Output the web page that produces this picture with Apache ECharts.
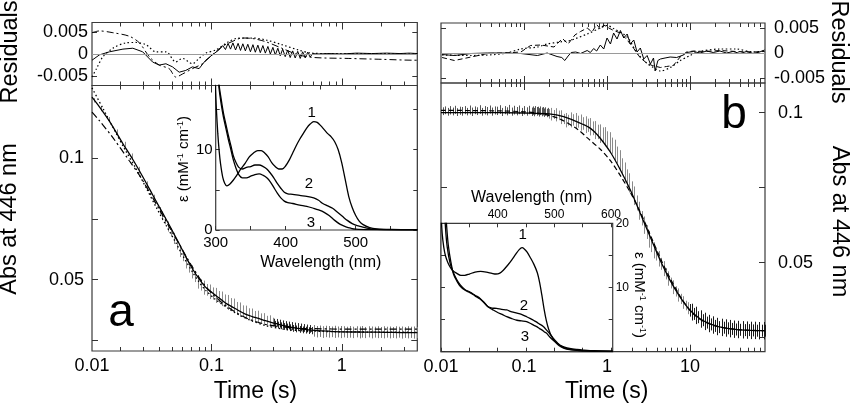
<!DOCTYPE html>
<html><head><meta charset="utf-8">
<script src="https://cdn.jsdelivr.net/npm/echarts@6/dist/echarts.min.js"></script>
<style>html,body{margin:0;padding:0;background:#fff}#c{width:850px;height:407px}</style>
</head><body><div id="c"></div><script>
// ================= DATA =================
// ---- tick / label values ----
const aTimeLabelVals = [0.0121, 0.1, 1];
const aTimeLabels = ['0.01', '0.1', '1'];
const aMajorTicks = [0.1, 1];
const aMinorTicks = [0.02,0.03,0.04,0.05,0.06,0.07,0.08,0.09,0.2,0.3,0.4,0.5,0.6,0.7,0.8,0.9,2,3];
const bTimeLabelVals = [0.01, 0.1, 1, 10];
const bTimeLabels = ['0.01', '0.1', '1', '10'];
const bMajorTicks = [0.1, 1, 10];
const bMinorTicks = [0.02,0.03,0.04,0.05,0.06,0.07,0.08,0.09,0.2,0.3,0.4,0.5,0.6,0.7,0.8,0.9,2,3,4,5,6,7,8,9,20,30,40,50,60,70];
const absTicks = [0.025, 0.05, 0.075, 0.1];
const absLabels = [0.05, 0.1];
const resTicks = [-0.005, 0, 0.005];
const wlTicks = [300,350,400,450,500,550,600];
const wlLabelsA = [300, 400, 500];
const wlLabelsB = [400, 500, 600];
const epsTicksA = [0, 5, 10, 15];
const epsLabelsA = [0, 10];
const epsTicksB = [0, 5, 10, 15, 20];
const epsLabelsB = [10, 20];

// ---- panel a : measured absorbance (time, low, high) ----
const aBarsMain = [
 [0.0125,0.1230,0.1248],[0.0142,0.1194,0.1212],[0.0163,0.1150,0.1170],[0.0188,0.1097,0.1119],[0.0215,0.1044,0.1068],
 [0.0245,0.0994,0.1020],[0.028,0.0937,0.0965],[0.032,0.0877,0.0905],[0.036,0.0818,0.0850],
 [0.040,0.0771,0.0799],[0.042,0.0745,0.0781],[0.0443,0.0728,0.0758],[0.0467,0.0698,0.0740],[0.0492,0.0678,0.0712],
 [0.0519,0.0647,0.0693],[0.0547,0.0624,0.0662],[0.0577,0.0593,0.0643],[0.0608,0.0576,0.0616],[0.0641,0.0546,0.0598],
 [0.0676,0.0529,0.0573],[0.0712,0.0505,0.0559],[0.0751,0.0490,0.0532],[0.0792,0.0463,0.0519],[0.0835,0.0455,0.0501],
 [0.088,0.0438,0.0496],[0.0928,0.0434,0.0482],[0.0978,0.0420,0.0480],[0.103,0.0418,0.0468],[0.109,0.0404,0.0466],
 [0.115,0.0405,0.0453],[0.121,0.0391,0.0451],[0.127,0.0387,0.0439],[0.134,0.0375,0.0437],[0.141,0.0374,0.0424],
 [0.149,0.0362,0.0422],[0.157,0.0360,0.0408],[0.166,0.0348,0.0406],[0.175,0.0348,0.0394],[0.184,0.0337,0.0393],
 [0.194,0.0338,0.0382],[0.205,0.0327,0.0381],[0.216,0.0329,0.0371],[0.228,0.0320,0.0372],[0.240,0.0321,0.0361],
 [0.253,0.0312,0.0362],[0.267,0.0313,0.0351],[0.281,0.0305,0.0353],[0.297,0.0307,0.0343]
];
const aBarsDense = [
 [0.300,0.0309,0.0339],[0.308,0.0302,0.0330],[0.317,0.0306,0.0338],[0.325,0.0299,0.0327],[0.334,0.0303,0.0335],
 [0.343,0.0296,0.0324],[0.353,0.0300,0.0332],[0.362,0.0293,0.0321],[0.372,0.0297,0.0329],[0.382,0.0291,0.0319],
 [0.393,0.0295,0.0327],[0.403,0.0288,0.0316],[0.414,0.0293,0.0325],[0.426,0.0285,0.0313],[0.437,0.0291,0.0323],
 [0.449,0.0283,0.0311],[0.461,0.0289,0.0321],[0.474,0.0281,0.0309],[0.487,0.0287,0.0319],[0.500,0.0279,0.0307],
 [0.514,0.0285,0.0317],[0.528,0.0278,0.0306],[0.542,0.0283,0.0315],[0.557,0.0276,0.0304],[0.572,0.0281,0.0313],
 [0.588,0.0275,0.0305]
];
const aBarsLate = [
 [0.61,0.0265,0.0313],[0.645,0.0262,0.0309],[0.68,0.0264,0.0311],[0.717,0.0260,0.0308],[0.757,0.0263,0.0310],
 [0.8,0.0261,0.0309],[0.843,0.0263,0.0307],[0.89,0.0260,0.0310],[0.94,0.0262,0.0307],[0.99,0.0259,0.0309],
 [1.045,0.0262,0.0308],[1.10,0.0260,0.0306],[1.16,0.0261,0.0309],[1.23,0.0259,0.0306],[1.30,0.0262,0.0308],
 [1.37,0.0258,0.0307],[1.44,0.0261,0.0309],[1.52,0.0259,0.0305],[1.61,0.0262,0.0308],[1.70,0.0258,0.0307],
 [1.79,0.0261,0.0306],[1.89,0.0259,0.0308],[1.99,0.0260,0.0305],[2.10,0.0258,0.0308],[2.22,0.0261,0.0306],
 [2.34,0.0258,0.0307],[2.47,0.0260,0.0305],[2.61,0.0258,0.0308],[2.75,0.0261,0.0306],[2.90,0.0257,0.0307],
 [3.06,0.0260,0.0305],[3.23,0.0258,0.0308],[3.41,0.0260,0.0306],[3.60,0.0257,0.0307],[3.78,0.0259,0.0305]
];
// ---- panel a : fits ----
const aFitSolid = [[0.0121,0.1252],[0.0138,0.1212],[0.0165,0.1152],[0.0209,0.1060],[0.0249,0.0995],[0.0296,0.0925],
 [0.0353,0.0850],[0.0397,0.0800],[0.0447,0.0750],[0.0502,0.0700],[0.0565,0.0648],[0.0635,0.0594],[0.0714,0.0545],
 [0.0803,0.0503],[0.0903,0.0468],[0.1014,0.0446],[0.114,0.0425],[0.128,0.0404],[0.144,0.0388],[0.162,0.0372],
 [0.182,0.0358],[0.205,0.0348],[0.23,0.0340],[0.259,0.0331],[0.291,0.0323],[0.327,0.0316],[0.367,0.0309],
 [0.413,0.0303],[0.465,0.0299],[0.522,0.0295],[0.588,0.0292],[0.7,0.0289],[1.0,0.0285],[1.5,0.0284],[2.2,0.0283],
 [3.0,0.0282],[3.8,0.0282]];
const aFitDashDot = [[0.0121,0.1190],[0.0138,0.1155],[0.0175,0.1085],[0.0234,0.0990],[0.028,0.0930],[0.0333,0.0862],
 [0.0397,0.0790],[0.0473,0.0718],[0.0533,0.0670],[0.06,0.0622],[0.0714,0.0552],[0.085,0.0490],[0.1014,0.0442],
 [0.121,0.0404],[0.144,0.0375],[0.172,0.0350],[0.205,0.0332],[0.259,0.0316],[0.347,0.0305],[0.465,0.0300],
 [0.62,0.0298],[1.12,0.0296],[2.02,0.0296],[3.8,0.0296]];
const aFitDot = [[0.0121,0.1290],[0.0147,0.1205],[0.0175,0.1128],[0.022,0.1030],[0.0263,0.0958],[0.0314,0.0880],
 [0.0375,0.0800],[0.0447,0.0725],[0.0533,0.0652],[0.06,0.0600],[0.0714,0.0532],[0.0803,0.0490],[0.0903,0.0456],
 [0.1076,0.0418],[0.136,0.0380],[0.162,0.0355],[0.205,0.0330],[0.259,0.0311],[0.347,0.0297],[0.465,0.0290],
 [0.588,0.0288],[1.0,0.0285],[3.8,0.0283]];
// ---- panel a : residuals ----
const aResSolid = [[0.0121,-0.0014],[0.0138,-0.0002],[0.0165,0.0005],[0.0209,0.0011],[0.0249,0.0013],[0.0296,0.0005],
 [0.0353,-0.0018],[0.0397,-0.0025],[0.0447,-0.0022],[0.0502,-0.0029],[0.0565,-0.0041],[0.0635,-0.0037],[0.0714,-0.0029],
 [0.0803,-0.0033],[0.0903,-0.0014],[0.1014,-0.0002],[0.114,0.0009],[0.122,0.0019],[0.128,0.0010],[0.134,0.0024],
 [0.14,0.0011],[0.146,0.0025],[0.153,0.0009],[0.16,0.0024],[0.167,0.0008],[0.174,0.0023],[0.182,0.0007],[0.19,0.0022],
 [0.199,0.0005],[0.208,0.0021],[0.217,0.0004],[0.227,0.0020],[0.237,0.0003],[0.248,0.0019],[0.259,0.0002],
 [0.271,0.0017],[0.283,0.0000],[0.296,0.0015],[0.309,-0.0002],[0.323,0.0013],[0.337,-0.0004],[0.352,0.0011],
 [0.368,-0.0006],[0.385,0.0009],[0.402,-0.0008],[0.42,0.0007],[0.439,-0.0009],[0.459,0.0006],[0.48,-0.0010],
 [0.501,0.0005],[0.524,-0.0009],[0.547,0.0004],[0.572,-0.0007],[0.598,0.0001],[0.65,0.0000],[0.8,0.0001],
 [1.0,0.0000],[1.3,0.0002],[1.7,0.0001],[2.2,0.0002],[2.8,0.0001],[3.3,0.0002],[3.8,0.0001]];
const aResDot = [[0.0121,-0.0052],[0.0131,-0.0033],[0.0147,-0.0006],[0.0175,0.0013],[0.022,0.0025],[0.0263,0.0026],
 [0.0314,0.0021],[0.0375,0.0005],[0.0447,0.0005],[0.0533,-0.0018],[0.06,-0.0010],[0.0714,-0.0022],[0.0803,-0.0010],
 [0.0903,0.0002],[0.1076,0.0009],[0.136,0.0028],[0.162,0.0036],[0.205,0.0036],[0.259,0.0032],[0.347,0.0021],
 [0.465,0.0009],[0.588,0.0002],[0.8,0.0001],[1.5,0.0001],[3.8,0.0000]];
const aResDashDot = [[0.0121,0.0048],[0.0138,0.0052],[0.0175,0.0048],[0.0234,0.0040],[0.028,0.0025],[0.0333,-0.0006],
 [0.0397,-0.0025],[0.0473,-0.0033],[0.0533,-0.0052],[0.06,-0.0045],[0.0714,-0.0033],[0.085,-0.0022],[0.1014,-0.0002],
 [0.121,0.0017],[0.144,0.0028],[0.172,0.0036],[0.205,0.0035],[0.259,0.0028],[0.347,0.0013],[0.465,-0.0002],
 [0.62,-0.0008],[1.12,-0.0010],[2.02,-0.0012],[3.6,-0.0014],[3.8,-0.0014]];
// ---- panel a inset : spectra (nm, mM-1 cm-1) ----
const aSpec1 = [[299,18.5],[301,15],[303,12],[305,9.8],[307,8.2],[310,6.6],[313,5.8],[316,5.5],[320,5.7],[325,6.2],
 [330,6.8],[336,7.6],[342,8.3],[348,9.1],[354,9.6],[360,9.9],[365,9.9],[370,9.6],[375,9.1],[380,8.4],[385,7.9],
 [390,7.6],[395,7.6],[400,8.0],[405,8.7],[410,9.6],[415,10.5],[420,11.3],[425,12.0],[430,12.7],[435,13.2],[440,13.5],
 [445,13.4],[450,13.0],[455,12.5],[460,12.0],[465,11.6],[470,11.0],[475,10.0],[480,8.4],[485,6.3],[490,4.2],[495,2.8],
 [500,1.8],[505,1.1],[510,0.7],[520,0.3],[530,0.15],[550,0.08],[588,0.05]];
const aSpec2 = [[300,26],[303,21],[305,18],[308,16.2],[311,14.6],[315,13],[318,11.8],[322,10.4],[325,9.3],[329,8.4],
 [333,7.8],[338,7.6],[344,7.8],[350,7.9],[356,8.1],[362,8.1],[368,7.9],[373,7.6],[378,7.1],[383,6.5],[388,5.8],
 [393,5.2],[398,4.7],[403,4.5],[410,4.45],[420,4.3],[430,4.2],[440,4.0],[447,3.7],[453,3.3],[460,3.0],[467,2.7],
 [474,2.2],[481,1.7],[488,1.2],[495,0.8],[502,0.55],[509,0.4],[516,0.22],[523,0.12],[540,0.05],[588,0.03]];
const aSpec3 = [[300,25],[303,20],[305,17.5],[308,15.6],[311,14.1],[315,12.5],[318,11.3],[322,9.9],[325,8.8],[329,7.7],
 [333,6.9],[338,6.5],[344,6.5],[350,6.7],[356,6.9],[362,7.0],[368,6.8],[373,6.5],[378,6.0],[383,5.3],[388,4.6],
 [393,4.0],[398,3.6],[403,3.4],[410,3.3],[420,3.1],[430,2.95],[440,2.7],[447,2.5],[455,2.2],[462,1.8],[470,1.2],
 [478,0.7],[486,0.4],[493,0.22],[500,0.1],[520,0.04],[588,0.02]];

// ---- panel b : measured absorbance (time, low, high) ----
const bBarsEarly = [
 [0.0105,0.0992,0.1018],[0.0112,0.0995,0.1021],[0.012,0.0990,0.1016],[0.0129,0.0994,0.1022],[0.0138,0.0991,0.1017],
 [0.0148,0.0996,0.1023],[0.0158,0.0989,0.1015],[0.0169,0.0993,0.1020],[0.0181,0.0990,0.1019],[0.0194,0.0995,0.1022],
 [0.0208,0.0991,0.1016],[0.0223,0.0994,0.1024],[0.0239,0.0989,0.1017],[0.0256,0.0995,0.1021],[0.0274,0.0992,0.1018],
 [0.0293,0.0996,0.1025],[0.0314,0.0990,0.1016],[0.0336,0.0994,0.1022],[0.036,0.0991,0.1019],[0.0386,0.0997,0.1024],
 [0.0413,0.0990,0.1017],[0.0443,0.0994,0.1021],[0.0474,0.0992,0.1020],[0.0508,0.0996,0.1025],[0.0544,0.0989,0.1016],
 [0.0583,0.0995,0.1022],[0.0624,0.0991,0.1018],[0.0668,0.0996,0.1026],[0.0716,0.0990,0.1017],[0.0767,0.0994,0.1023],
 [0.0821,0.0991,0.1019],[0.0879,0.0995,0.1024],[0.0942,0.0989,0.1016],[0.101,0.0994,0.1022],[0.108,0.0990,0.1018],
 [0.116,0.0995,0.1023],[0.124,0.0989,0.1017],[0.128,0.0993,0.1021],[0.133,0.0988,0.1016],[0.137,0.0994,0.1022],
 [0.142,0.0990,0.1019],[0.147,0.0993,0.1020],[0.152,0.0987,0.1015],[0.157,0.0992,0.1021],[0.163,0.0988,0.1017],
 [0.169,0.0991,0.1019],[0.175,0.0986,0.1014],[0.181,0.0990,0.1018],[0.187,0.0985,0.1013],[0.194,0.0988,0.1016]
];
const bBarsMid = [
 [0.2,0.0980,0.1012],[0.214,0.0974,0.1016],[0.229,0.0979,0.1009],[0.245,0.0971,0.1015],[0.262,0.0975,0.1007],
 [0.28,0.0962,0.1008],[0.3,0.0962,0.0996],[0.321,0.0951,0.0999],[0.343,0.0957,0.0993],[0.367,0.0951,0.1001],
 [0.393,0.0957,0.0995],[0.42,0.0947,0.0999],[0.45,0.0950,0.0990],[0.481,0.0940,0.0994],[0.515,0.0943,0.0985],
 [0.551,0.0932,0.0988],[0.59,0.0936,0.0980],[0.631,0.0924,0.0982],[0.675,0.0925,0.0971],[0.722,0.0912,0.0972],
 [0.773,0.0912,0.0960],[0.827,0.0899,0.0961],[0.885,0.0901,0.0951],[0.947,0.0888,0.0952],[1.01,0.0886,0.0938],
 [1.08,0.0869,0.0935],[1.16,0.0863,0.0917],[1.24,0.0842,0.0910],[1.33,0.0831,0.0887],[1.42,0.0807,0.0875],
 [1.52,0.0792,0.0848],[1.63,0.0768,0.0834],[1.74,0.0757,0.0811],[1.86,0.0734,0.0798],[1.99,0.0719,0.0771],
 [2.13,0.0692,0.0754],[2.28,0.0674,0.0724],[2.44,0.0643,0.0703],[2.61,0.0624,0.0672],[2.79,0.0596,0.0654],
 [2.99,0.0579,0.0625],[3.2,0.0550,0.0606],[3.42,0.0535,0.0579],[3.66,0.0514,0.0568],[3.92,0.0507,0.0549],
 [4.19,0.0487,0.0539],[4.49,0.0476,0.0516],[4.8,0.0455,0.0505],[5.14,0.0444,0.0482],[5.5,0.0423,0.0471],
 [5.88,0.0414,0.0450],[6.29,0.0395,0.0441],[6.73,0.0387,0.0421],[7.2,0.0370,0.0414],[7.71,0.0362,0.0396],
 [8.25,0.0346,0.0388],[8.82,0.0341,0.0373],[9.44,0.0328,0.0368]
];
const bBarsLate = [
 [10,0.0320,0.0362],[10.6,0.0307,0.0363],[11.2,0.0309,0.0349],[11.9,0.0295,0.0353],[12.6,0.0298,0.0338],
 [13.4,0.0283,0.0341],[14.2,0.0288,0.0328],[15.0,0.0275,0.0333],[15.9,0.0280,0.0320],[16.9,0.0268,0.0326],
 [17.9,0.0274,0.0314],[19.0,0.0263,0.0321],[20.1,0.0269,0.0309],[21.3,0.0258,0.0316],[22.6,0.0265,0.0305],
 [24.0,0.0255,0.0313],[25.4,0.0263,0.0303],[26.9,0.0253,0.0311],[28.5,0.0261,0.0301],[30.2,0.0251,0.0309],
 [32,0.0259,0.0299],[34,0.0249,0.0307],[36,0.0257,0.0297],[38.2,0.0248,0.0306],[40.5,0.0256,0.0296],
 [42.9,0.0247,0.0305],[45.5,0.0255,0.0295],[48.2,0.0246,0.0304],[51.1,0.0255,0.0295],[54.2,0.0245,0.0303],
 [57.5,0.0254,0.0294],[60.9,0.0245,0.0303],[64.6,0.0253,0.0293],[68.5,0.0244,0.0302],[72.6,0.0253,0.0293],
 [76.9,0.0244,0.0302],[79.5,0.0253,0.0293]
];
// ---- panel b : fits ----
const bFitSolid = [[0.01,0.1000],[0.05,0.1000],[0.1,0.0999],[0.2,0.0996],[0.3,0.0987],[0.45,0.0968],[0.6,0.0952],
 [0.7,0.0937],[0.833,0.0914],[1.1,0.0868],[1.45,0.0809],[1.91,0.0742],[2.52,0.0664],[3.31,0.0586],[4.37,0.0508],
 [5.75,0.0441],[7.6,0.0385],[10,0.0341],[13.2,0.0313],[17.4,0.0296],[25,0.0283],[40,0.0276],[80,0.0273]];
const bFitDashed = [[0.01,0.1008],[0.05,0.1006],[0.1,0.1003],[0.15,0.0998],[0.2,0.0991],[0.28,0.0977],[0.44,0.0945],
 [0.58,0.0916],[0.83,0.0878],[1.1,0.0840],[1.45,0.0790],[1.9,0.0735],[2.5,0.0670],[3.3,0.0594],[4.4,0.0514],
 [5.8,0.0446],[7.6,0.0388],[10,0.0341],[13.2,0.0311],[20,0.0289],[40,0.0276],[80,0.0273]];
// ---- panel b : residuals ----
const bResSolid = [[0.0103,-0.0003],[0.0145,-0.0005],[0.0231,-0.0001],[0.0365,0.0000],[0.0577,0.0000],[0.0916,-0.0001],
 [0.145,-0.0005],[0.19,0.0000],[0.25,-0.0007],[0.285,-0.0009],[0.31,-0.0015],[0.34,-0.0006],[0.37,0.0001],[0.42,0.0002],
 [0.48,-0.0001],[0.577,0.0005],[0.63,0.0001],[0.69,0.0009],[0.75,0.0004],[0.83,0.0016],[0.913,0.0008],[1.0,0.0030],
 [1.1,0.0018],[1.2,0.0040],[1.32,0.0028],[1.45,0.0045],[1.59,0.0030],[1.75,0.0038],[1.91,0.0018],[2.1,0.0026],
 [2.3,0.0002],[2.52,0.0010],[2.77,-0.0012],[3.04,-0.0005],[3.33,-0.0022],[3.63,-0.0010],[3.8,-0.0036],[4.1,-0.0015],
 [4.4,-0.0012],[5.0,-0.0010],[5.76,-0.0008],[6.9,-0.0009],[8.3,-0.0004],[9.1,0.0001],[11,0.0003],[13.2,0.0000],
 [15.9,0.0004],[19,0.0001],[22.9,0.0004],[27.5,0.0000],[33,0.0003],[40,-0.0001],[48,0.0003],[57.5,-0.0001],
 [69,0.0002],[79,0.0006]];
const bResDashed = [[0.0103,-0.0009],[0.0145,-0.0015],[0.0231,-0.0008],[0.0365,-0.0001],[0.0577,0.0000],[0.0916,0.0002],
 [0.12,0.0015],[0.16,0.0016],[0.23,0.0012],[0.29,0.0029],[0.34,0.0018],[0.41,0.0036],[0.48,0.0043],[0.577,0.0050],
 [0.66,0.0042],[0.75,0.0057],[0.83,0.0048],[0.913,0.0056],[1.05,0.0050],[1.2,0.0045],[1.45,0.0040],[1.75,0.0026],
 [2.1,0.0009],[2.5,-0.0009],[3.0,-0.0020],[3.5,-0.0025],[4.4,-0.0029],[5.2,-0.0027],[6.3,-0.0025],[7.6,-0.0008],
 [9.1,0.0002],[11,0.0004],[15,0.0003],[23,0.0005],[36,0.0003],[57,0.0002],[79,0.0003]];
const bResDot = [[0.0103,-0.0004],[0.0231,-0.0005],[0.0577,-0.0001],[0.0916,0.0008],[0.145,0.0012],[0.19,0.0018],
 [0.27,0.0022],[0.36,0.0025],[0.42,0.0029],[0.577,0.0038],[0.83,0.0050],[1.0,0.0055],[1.2,0.0049],[1.75,0.0032],
 [2.3,0.0000],[3.0,-0.0020],[3.6,-0.0029],[4.4,-0.0036],[5.8,-0.0029],[7.5,-0.0016],[10,-0.0005],[13,0.0003],
 [23,0.0008],[36,0.0008],[57,0.0002],[79,0.0004]];
// ---- panel b inset : spectra ----
const bSpec1 = [[300,22],[302,18.5],[305,16.2],[308,14.9],[312,13.9],[316,13.2],[320,12.7],[328,12.2],[335,11.9],
 [342,11.9],[350,12.1],[360,12.4],[370,12.5],[380,12.4],[390,12.2],[397,12.1],[403,12.2],[410,12.7],[418,13.5],
 [425,14.3],[432,15.2],[438,15.9],[443,16.2],[447,16.0],[452,15.5],[458,14.6],[464,13.6],[470,12.3],[474,10.8],
 [478,8.8],[482,6.6],[486,4.8],[490,3.5],[495,2.4],[500,1.7],[506,1.1],[512,0.75],[520,0.45],[530,0.3],[545,0.18],
 [560,0.1],[580,0.05],[603,0.03]];
const bSpec2 = [[300,34],[305,24],[308,19.2],[311,16.3],[316,13.8],[322,12.3],[328,11.2],[334,10.4],[342,9.7],
 [351,9.3],[360,8.8],[369,8.3],[376,7.7],[383,7.0],[390,6.8],[398,6.75],[407,6.6],[416,6.5],[425,6.2],[434,6.0],
 [442,5.8],[451,5.45],[457,5.2],[463,4.9],[469,4.6],[474,4.3],[478,4.1],[482,3.8],[486,3.4],[492,2.8],[498,2.1],
 [504,1.5],[510,1.0],[518,0.7],[527,0.5],[540,0.35],[551,0.26],[570,0.15],[603,0.08]];
const bSpec3 = [[300,36],[306,25],[310,19.5],[313,16.5],[317,14.2],[322,12.1],[328,11.0],[334,10.2],[342,9.6],
 [351,9.2],[360,8.7],[369,8.2],[376,7.6],[383,7.0],[388,6.7],[392,6.5],[400,6.1],[408,5.8],[416,5.45],[425,5.15],
 [434,4.9],[442,4.8],[451,4.7],[458,4.4],[464,4.1],[469,3.9],[474,3.6],[478,3.4],[482,3.1],[486,2.9],[492,2.3],
 [498,1.8],[504,1.4],[510,1.0],[518,0.6],[527,0.38],[540,0.22],[560,0.12],[603,0.05]];

// ================= CHART =================
const F = "'Liberation Sans', Arial, Helvetica, sans-serif";
const AXC = '#333';
function nearest(vals, texts, logScale) {
  return function (v) {
    let bi = 0, bd = Infinity;
    vals.forEach(function (x, i) {
      const d = logScale ? Math.abs(Math.log(x) - Math.log(v)) : Math.abs(x - v);
      if (d < bd) { bd = d; bi = i; }
    });
    return texts ? texts[bi] : String(vals[bi]);
  };
}
function ax(o, ticks, len, labels) {
  const base = {
    axisLine: { show: false, onZero: false },
    splitLine: { show: false },
    axisPointer: { show: false },
    axisTick: { show: true, inside: true, length: len, customValues: ticks, lineStyle: { color: AXC, width: 1 } },
    axisLabel: { show: false }
  };
  if (labels) base.axisLabel = Object.assign({ show: true, color: '#000', fontFamily: F, fontSize: 18 }, labels);
  return Object.assign(base, o);
}
const grids = [
  { left: 92, top: 22.5, width: 325.3, height: 63 },
  { left: 92, top: 85.5, width: 325.3, height: 265.5 },
  { left: 215.7, top: 85.5, width: 201.6, height: 144.5, z: 3, backgroundColor: '#fff' },
  { left: 441, top: 23, width: 324, height: 60 },
  { left: 441, top: 83, width: 324, height: 268.7 },
  { left: 441, top: 223.3, width: 171.7, height: 128.4, z: 3, backgroundColor: '#fff' }
].map(function (g) { return Object.assign({ show: true, borderColor: '#3a3a3a', borderWidth: 1.2, containLabel: false }, g); });

const aLog = { type: 'log', logBase: 10, min: 0.0121, max: 3.8 };
const bLog = { type: 'log', logBase: 10, min: 0.01, max: 80 };
const xAxes = [
  ax(Object.assign({ gridIndex: 0, position: 'bottom' }, aLog), aMajorTicks, 7),
  ax(Object.assign({ gridIndex: 0, position: 'bottom' }, aLog), aMinorTicks, 4),
  ax(Object.assign({ gridIndex: 0, position: 'top' }, aLog), aMajorTicks, 7),
  ax(Object.assign({ gridIndex: 0, position: 'top' }, aLog), aMinorTicks, 4),
  ax(Object.assign({ gridIndex: 1, position: 'bottom' }, aLog), aMajorTicks, 7,
     { customValues: aTimeLabelVals, formatter: nearest(aTimeLabelVals, aTimeLabels, true), margin: 6 }),
  ax(Object.assign({ gridIndex: 1, position: 'bottom' }, aLog), aMinorTicks, 4),
  ax(Object.assign({ gridIndex: 1, position: 'top' }, aLog), aMajorTicks, 7),
  ax(Object.assign({ gridIndex: 1, position: 'top' }, aLog), aMinorTicks, 4),
  ax({ gridIndex: 2, position: 'bottom', type: 'value', min: 300, max: 588, z: 4 }, wlTicks, 4,
     { customValues: wlLabelsA, fontSize: 15, margin: 5 }),
  ax({ gridIndex: 2, position: 'top', type: 'value', min: 300, max: 588, z: 4 }, wlTicks, 4),
  ax(Object.assign({ gridIndex: 3, position: 'bottom' }, bLog), bMajorTicks, 7),
  ax(Object.assign({ gridIndex: 3, position: 'bottom' }, bLog), bMinorTicks, 4),
  ax(Object.assign({ gridIndex: 3, position: 'top' }, bLog), bMajorTicks, 7),
  ax(Object.assign({ gridIndex: 3, position: 'top' }, bLog), bMinorTicks, 4),
  ax(Object.assign({ gridIndex: 4, position: 'bottom' }, bLog), bMajorTicks, 7,
     { customValues: bTimeLabelVals, formatter: nearest(bTimeLabelVals, bTimeLabels, true), margin: 6 }),
  ax(Object.assign({ gridIndex: 4, position: 'bottom' }, bLog), bMinorTicks, 4),
  ax(Object.assign({ gridIndex: 4, position: 'top' }, bLog), bMajorTicks, 7),
  ax(Object.assign({ gridIndex: 4, position: 'top' }, bLog), bMinorTicks, 4),
  ax({ gridIndex: 5, position: 'bottom', type: 'value', min: 300, max: 603, z: 4 }, wlTicks, 4),
  ax({ gridIndex: 5, position: 'top', type: 'value', min: 300, max: 603, z: 4 }, wlTicks, 4,
     { customValues: wlLabelsB, fontSize: 12, margin: 3 })
];
const yAxes = [
  ax({ gridIndex: 0, position: 'left', type: 'value', min: -0.0071, max: 0.0071 }, resTicks, 5,
     { customValues: resTicks, margin: 4 }),
  ax({ gridIndex: 0, position: 'right', type: 'value', min: -0.0071, max: 0.0071 }, resTicks, 5),
  ax({ gridIndex: 1, position: 'left', type: 'value', min: 0.0206, max: 0.13 }, absTicks, 6,
     { customValues: absLabels, margin: 8 }),
  ax({ gridIndex: 1, position: 'right', type: 'value', min: 0.0206, max: 0.13 }, absTicks, 6),
  ax({ gridIndex: 2, position: 'left', type: 'value', min: 0, max: 18, z: 4 }, epsTicksA, 4,
     { customValues: epsLabelsA, fontSize: 15, margin: 3 }),
  ax({ gridIndex: 2, position: 'right', type: 'value', min: 0, max: 18, z: 4 }, epsTicksA, 4),
  ax({ gridIndex: 3, position: 'left', type: 'value', min: -0.006, max: 0.006 }, resTicks, 5),
  ax({ gridIndex: 3, position: 'right', type: 'value', min: -0.006, max: 0.006 }, resTicks, 5,
     { customValues: resTicks, margin: 9 }),
  ax({ gridIndex: 4, position: 'left', type: 'value', min: 0.0203, max: 0.1099 }, absTicks, 6),
  ax({ gridIndex: 4, position: 'right', type: 'value', min: 0.0203, max: 0.1099 }, absTicks, 6,
     { customValues: absLabels, margin: 13 }),
  ax({ gridIndex: 5, position: 'left', type: 'value', min: 0, max: 20, z: 4 }, epsTicksB, 4),
  ax({ gridIndex: 5, position: 'right', type: 'value', min: 0, max: 20, z: 4 }, epsTicksB, 4,
     { customValues: epsLabelsB, fontSize: 12, margin: 3 })
];

function barItem(params, api) {
  const p1 = api.coord([api.value(0), api.value(1)]);
  const p2 = api.coord([api.value(0), api.value(2)]);
  const x = Math.round(p1[0]) + 0.5;
  return { type: 'line', shape: { x1: x, y1: p1[1], x2: x, y2: p2[1] },
    style: { stroke: api.visual('color'), lineWidth: 1 } };
}
function bars(data, xi, yi, color) {
  return { type: 'custom', data: data, xAxisIndex: xi, yAxisIndex: yi, renderItem: barItem,
    encode: { x: 0, y: [1, 2] }, itemStyle: { color: color }, z: 1, silent: true };
}
function line(data, xi, yi, dash, z, width, smooth) {
  return { type: 'line', data: data, xAxisIndex: xi, yAxisIndex: yi, showSymbol: false, symbol: 'none',
    smooth: smooth === undefined ? 0.3 : smooth, z: z || 2, silent: true,
    lineStyle: { color: '#000', width: width || 1.2, type: dash || 'solid' } };
}
const zeroLine = { silent: true, symbol: ['none', 'none'], label: { show: false },
  lineStyle: { color: '#9a9a9a', width: 1, type: 'solid' }, data: [{ yAxis: 0 }] };

const series = [
  bars(aBarsMain, 4, 2, '#8a8a8a'),
  bars(aBarsDense, 4, 2, '#2a2a2a'),
  bars(aBarsLate, 4, 2, '#7a7a7a'),
  line(aFitSolid, 4, 2, 'solid', 2, 1.3),
  line(aFitDashDot, 4, 2, [7, 3, 2, 3], 2, 1.2),
  line(aFitDot, 4, 2, [1.5, 2.5], 2, 1.3),
  Object.assign(line(aResSolid, 0, 0, 'solid', 2, 1, false), { markLine: zeroLine }),
  line(aResDot, 0, 0, [1.5, 2.5], 2, 1.2, 0.3),
  line(aResDashDot, 0, 0, [7, 3, 2, 3], 2, 1, 0.3),
  line(aSpec1, 8, 4, 'solid', 5, 1.3, 0.3),
  line(aSpec2, 8, 4, 'solid', 5, 1.3, 0.3),
  line(aSpec3, 8, 4, 'solid', 5, 1.3, 0.3),
  bars(bBarsEarly, 14, 8, '#555'),
  bars(bBarsMid, 14, 8, '#8a8a8a'),
  bars(bBarsLate, 14, 8, '#1a1a1a'),
  line(bFitSolid, 14, 8, 'solid', 2, 1.3),
  line(bFitDashed, 14, 8, [5, 3], 2, 1.2),
  Object.assign(line(bResSolid, 10, 6, 'solid', 2, 1, false), { markLine: zeroLine }),
  line(bResDashed, 10, 6, [5, 3], 2, 1, false),
  line(bResDot, 10, 6, [1.5, 2.5], 2, 1.2, 0.3),
  line(bSpec1, 18, 10, 'solid', 5, 1.3, 0.3),
  line(bSpec2, 18, 10, 'solid', 5, 1.3, 0.3),
  line(bSpec3, 18, 10, 'solid', 5, 1.3, 0.3)
];

function txt(x, y, text, size, rot, extra) {
  return { type: 'text', x: x, y: y, rotation: rot || 0, z: 20, silent: true,
    style: Object.assign({ text: text, font: size + 'px ' + F, fill: '#000',
      textAlign: 'center', textVerticalAlign: 'middle', align: 'center', verticalAlign: 'middle' }, extra || {}) };
}
const supRich = { rich: { s: { fontSize: 9, fontFamily: F, verticalAlign: 'top', fill: '#000' } } };
const graphic = [
  txt(11, 52, 'Residuals', 23.5, Math.PI / 2),
  txt(10, 219, 'Abs at 446 nm', 23.5, Math.PI / 2),
  txt(255.5, 392, 'Time (s)', 23, 0),
  txt(121, 313, 'a', 46, 0),
  txt(320.8, 262.7, 'Wavelength (nm)', 16, 0),
  txt(184, 159, 'ε (mM{s|-1} cm{s|-1})', 15, Math.PI / 2, supRich),
  txt(311.7, 113, '1', 15, 0), txt(309, 184, '2', 15, 0), txt(311, 223, '3', 15, 0),
  txt(838, 52, 'Residuals', 23.5, -Math.PI / 2),
  txt(839, 221.5, 'Abs at 446 nm', 23.5, -Math.PI / 2),
  txt(606.7, 392, 'Time (s)', 23, 0),
  txt(734, 115, 'b', 46, 0),
  txt(531.7, 198, 'Wavelength (nm)', 16, 0),
  txt(639, 295, 'ε (mM{s|-1} cm{s|-1})', 15, -Math.PI / 2, supRich),
  txt(522.7, 235, '1', 15, 0), txt(524, 305.7, '2', 15, 0), txt(525, 336.7, '3', 15, 0)
];

const chart = echarts.init(document.getElementById('c'), null, { renderer: 'canvas' });
chart.setOption({
  animation: false,
  backgroundColor: '#fff',
  grid: grids,
  xAxis: xAxes,
  yAxis: yAxes,
  series: series,
  graphic: graphic
});
</script></body></html>
